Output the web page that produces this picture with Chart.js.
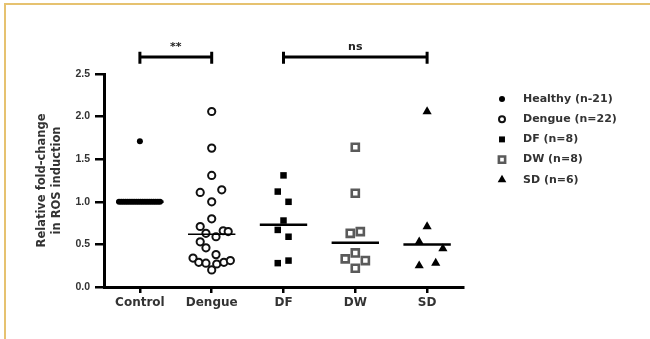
<!DOCTYPE html>
<html>
<head>
<meta charset="utf-8">
<script src="https://cdn.jsdelivr.net/npm/chart.js@4.4.1/dist/chart.umd.min.js"></script>
<style>
  body { margin: 0; background: #fff; }
  #wrap { position: relative; width: 650px; height: 339px; }
  #frame { position: absolute; left: 4px; top: 3px; right: 0; bottom: 0;
           border-top: 2px solid #e6c270; border-left: 2px solid #e6c270; pointer-events: none; }
  canvas { position: absolute; left: 0; top: 0; }
</style>
</head>
<body>
<div id="wrap">
  <canvas id="rosChart" width="650" height="339"></canvas>
  <div id="frame"></div>
</div>
<script>
const categories = ['Control', 'Dengue', 'DF', 'DW', 'SD'];
const groupNames = ['Healthy (n-21)', 'Dengue (n=22)', 'DF (n=8)', 'DW (n=8)', 'SD (n=6)'];
const yTicks = [0, 0.5, 1.0, 1.5, 2.0, 2.5];

// values and horizontal scatter offsets (in category units)
const healthyValues = [1.71, 1.0, 1.0, 1.0, 1.0, 1.0, 1.0, 1.0, 1.0, 1.0, 1.0, 1.0, 1.0, 1.0, 1.0, 1.0, 1.0, 1.0, 1.0, 1.0, 1.0];
const healthyOffsets = [0, -0.29, -0.26, -0.23, -0.20, -0.17, -0.14, -0.11, -0.08, -0.05, -0.02, 0.01, 0.04, 0.07, 0.10, 0.13, 0.16, 0.19, 0.22, 0.25, 0.28];

const dengueValues = [2.06, 1.63, 1.31, 1.11, 1.14, 1.00, 0.80, 0.71, 0.63, 0.59, 0.66, 0.65, 0.53, 0.46, 0.38, 0.34, 0.29, 0.28, 0.20, 0.27, 0.29, 0.31];
const dengueOffsets = [0, 0, 0, -0.16, 0.14, 0, 0, -0.16, -0.08, 0.06, 0.16, 0.23, -0.16, -0.08, 0.06, -0.26, -0.18, -0.08, 0, 0.07, 0.17, 0.26];

const dfValues = [1.31, 1.12, 1.00, 0.78, 0.67, 0.59, 0.28, 0.31];
const dfOffsets = [0, -0.08, 0.07, 0, -0.08, 0.07, -0.08, 0.07];

const dwValues = [1.64, 1.10, 0.63, 0.65, 0.40, 0.33, 0.31, 0.22];
const dwOffsets = [0, 0, -0.07, 0.07, 0, -0.14, 0.14, 0];

const sdValues = [2.06, 0.71, 0.53, 0.45, 0.25, 0.28];
const sdOffsets = [0, 0, -0.11, 0.22, -0.11, 0.12];

const medians = [1.0, 0.62, 0.73, 0.52, 0.50];
const medianHalfWidth = 0.33;

const sigFrom = [1, 3];
const sigTo = [2, 5];
const sigLevel = [2.70, 2.70];
const sigText = ['**', 'ns'];
const capUp = 0.06, capDown = 0.08;

const ctx = document.getElementById('rosChart').getContext('2d');

const toPoints = (cat, values, offsets) => values.map((v, i) => ({ x: cat + offsets[i], y: v }));

const groupStyles = [
    { pointStyle: 'circle', radius: 3, legendRadius: 3, backgroundColor: '#000', borderColor: '#000', borderWidth: 0 },
    { pointStyle: 'circle', radius: 3.6, legendRadius: 3, backgroundColor: '#fff', borderColor: '#111', borderWidth: 2 },
    { pointStyle: 'rect', radius: 4.6, legendRadius: 4.2, backgroundColor: '#000', borderColor: '#000', borderWidth: 0 },
    { pointStyle: 'rect', radius: 5, legendRadius: 4.4, backgroundColor: '#fff', borderColor: '#5a5a5a', borderWidth: 2.6 },
    { pointStyle: 'triangle', radius: 5.3, legendRadius: 5, backgroundColor: '#000', borderColor: '#000', borderWidth: 0 }
];

const groupData = [
    toPoints(1, healthyValues, healthyOffsets),
    toPoints(2, dengueValues, dengueOffsets),
    toPoints(3, dfValues, dfOffsets),
    toPoints(4, dwValues, dwOffsets),
    toPoints(5, sdValues, sdOffsets)
];

const datasets = [];

// median lines first so the markers sit on top
medians.forEach((m, i) => {
    datasets.push({
        type: 'line',
        data: [{ x: i + 1 - medianHalfWidth, y: m }, { x: i + 1 + medianHalfWidth, y: m }],
        borderColor: '#000',
        borderWidth: i === 1 ? 1.5 : 2.5,
        pointRadius: 0
    });
});

groupData.forEach((pts, i) => {
    const s = groupStyles[i];
    datasets.push({
        type: 'scatter',
        label: groupNames[i],
        data: pts,
        pointStyle: s.pointStyle,
        pointRadius: s.radius,
        pointBackgroundColor: s.backgroundColor,
        pointBorderColor: s.borderColor,
        pointBorderWidth: s.borderWidth,
        clip: false
    });
});

// significance brackets: cap, bar, cap as one path
sigFrom.forEach((f, i) => {
    const t = sigTo[i], lv = sigLevel[i];
    datasets.push({
        type: 'line',
        data: [
            { x: f, y: lv + capUp }, { x: f, y: lv - capDown }, { x: f, y: lv },
            { x: t, y: lv }, { x: t, y: lv + capUp }, { x: t, y: lv - capDown }
        ],
        borderColor: '#000',
        borderWidth: 3,
        pointRadius: 0,
        clip: false
    });
});

const sigLabels = {
    id: 'sigLabels',
    afterDatasetsDraw(chart) {
        const { ctx, scales: { x, y } } = chart;
        ctx.save();
        ctx.fillStyle = '#222';
        ctx.font = 'bold 11px "DejaVu Sans"';
        ctx.textAlign = 'center';
        ctx.textBaseline = 'bottom';
        sigText.forEach((t, i) => {
            const cx = (x.getPixelForValue(sigFrom[i]) + x.getPixelForValue(sigTo[i])) / 2;
            ctx.fillText(t, cx, y.getPixelForValue(sigLevel[i]) - 4);
        });
        ctx.restore();
    }
};

const sideLegend = {
    id: 'sideLegend',
    afterDraw(chart) {
        const { ctx } = chart;
        const markX = 502, textX = 523, top = 99, step = 20.2;
        ctx.save();
        groupNames.forEach((name, i) => {
            const s = groupStyles[i];
            const yy = top + i * step;
            ctx.fillStyle = s.backgroundColor;
            ctx.strokeStyle = s.borderColor;
            ctx.lineWidth = s.borderWidth;
            Chart.helpers.drawPoint(ctx, {
                pointStyle: s.pointStyle,
                radius: s.legendRadius,
                rotation: 0,
                borderWidth: s.borderWidth
            }, markX, yy);
            ctx.fillStyle = '#333';
            ctx.font = 'bold 11px "DejaVu Sans"';
            ctx.textAlign = 'left';
            ctx.textBaseline = 'middle';
            ctx.fillText(name, textX, yy);
        });
        ctx.restore();
    }
};

new Chart(ctx, {
    data: { datasets: datasets },
    plugins: [sigLabels, sideLegend],
    options: {
        responsive: false,
        animation: false,
        layout: { padding: { left: 0, right: 187, top: 74, bottom: 0 } },
        plugins: {
            legend: { display: false },
            tooltip: { enabled: false }
        },
        scales: {
            x: {
                type: 'linear',
                min: 0.5,
                max: 5.5,
                afterFit: (s) => { s.height = 52; },
                afterBuildTicks: (s) => {
                    s.ticks = categories.map((c, i) => ({ value: i + 1 }));
                },
                ticks: {
                    autoSkip: false,
                    maxRotation: 0,
                    padding: 3,
                    color: '#333',
                    font: { family: 'DejaVu Sans', size: 12, weight: 'bold' },
                    callback: (v) => categories[Math.round(v) - 1] || ''
                },
                grid: { drawOnChartArea: false, drawTicks: true, tickLength: 6, lineWidth: 2.5, color: '#000' },
                border: { display: true, width: 3, color: '#000' }
            },
            y: {
                min: 0,
                max: 2.5,
                afterFit: (s) => { s.width = 104; },
                afterBuildTicks: (s) => {
                    s.ticks = yTicks.map(v => ({ value: v }));
                },
                ticks: {
                    padding: 5,
                    color: '#333',
                    font: { family: 'Liberation Sans', size: 10.5, weight: 'bold' },
                    callback: (v) => Number(v).toFixed(1)
                },
                title: {
                    display: true,
                    text: ['Relative fold-change', 'in ROS induction'],
                    color: '#333',
                    font: { family: 'DejaVu Sans', size: 11.5, weight: 'bold', lineHeight: 1.25 },
                    padding: { top: 35, bottom: 0 }
                },
                grid: { drawOnChartArea: false, drawTicks: true, tickLength: 9, lineWidth: 2.5, color: '#000' },
                border: { display: true, width: 3, color: '#000' }
            }
        }
    }
});
</script>
</body>
</html>
